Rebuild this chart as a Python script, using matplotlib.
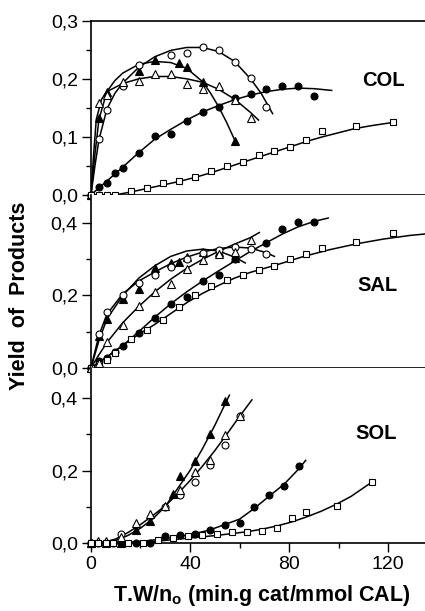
import numpy as np
import matplotlib
matplotlib.use("Agg")
import matplotlib.pyplot as plt
from matplotlib.ticker import MultipleLocator, FuncFormatter

plt.rcParams['font.family'] = ['Liberation Sans', 'DejaVu Sans']
plt.rcParams['mathtext.fontset'] = 'custom'
plt.rcParams['mathtext.bf'] = 'Liberation Sans:bold'

# ---------------- COL (top panel) ----------------
col_sq_x = [0, 3, 6, 9, 15, 21, 27, 33, 39, 45, 51, 57, 63, 69, 75, 81, 87, 99.5, 113.7]
col_sq_y = [0, 0, 0, 0, 0.007, 0.012, 0.02, 0.024, 0.031, 0.041, 0.05, 0.056, 0.068, 0.075, 0.082, 0.095, 0.11, 0.118, 0.125]
col_sq_fx = [0, 9, 15, 21, 27, 33, 39, 45, 51, 57, 63, 69, 75, 81, 87, 93, 99, 105, 113.7]
col_sq_fy = [0, 0, 0.005, 0.011, 0.017, 0.023, 0.03, 0.038, 0.047, 0.056, 0.065, 0.074, 0.083, 0.092, 0.1, 0.107, 0.114, 0.119, 0.125]

col_fc_x = [0, 3, 6, 9, 12, 18, 24, 30, 36, 42, 48, 54, 60, 66, 72, 78, 84]
col_fc_y = [0, 0.014, 0.021, 0.037, 0.047, 0.072, 0.102, 0.105, 0.128, 0.143, 0.152, 0.167, 0.174, 0.183, 0.188, 0.188, 0.171]
col_fc_fx = [0, 6, 12, 18, 24, 30, 36, 42, 48, 54, 60, 66, 72, 78, 84, 90.5]
col_fc_fy = [0, 0.024, 0.048, 0.073, 0.096, 0.113, 0.129, 0.143, 0.154, 0.164, 0.172, 0.178, 0.182, 0.184, 0.183, 0.18]

col_oc_x = [0, 3, 6, 12, 18, 30, 36, 42, 48, 54, 60, 66]
col_oc_y = [0, 0.096, 0.147, 0.188, 0.224, 0.241, 0.245, 0.254, 0.25, 0.229, 0.202, 0.151]
col_oc_fx = [0, 1.5, 3, 6, 9, 12, 18, 24, 30, 36, 42, 48, 54, 60, 64, 68.3]
col_oc_fy = [0, 0.05, 0.095, 0.148, 0.175, 0.193, 0.22, 0.238, 0.249, 0.254, 0.254, 0.247, 0.23, 0.2, 0.175, 0.14]

col_ft_x = [0, 3, 6, 18, 24, 33, 36, 42, 54]
col_ft_y = [0, 0.132, 0.178, 0.213, 0.232, 0.228, 0.22, 0.195, 0.093]
col_ft_fx = [0, 1.5, 3, 6, 9, 12, 18, 24, 30, 36, 42, 45, 48, 51, 54.3]
col_ft_fy = [0, 0.07, 0.13, 0.178, 0.197, 0.21, 0.225, 0.23, 0.228, 0.218, 0.195, 0.175, 0.152, 0.125, 0.092]

col_ot_x = [0, 3, 6, 12, 18, 24, 30, 36, 42, 48, 54, 60]
col_ot_y = [0, 0.159, 0.172, 0.194, 0.197, 0.209, 0.209, 0.191, 0.183, 0.187, 0.163, 0.133]
col_ot_fx = [0, 1, 2, 4, 6, 12, 18, 24, 30, 36, 42, 48, 54, 60, 63]
col_ot_fy = [0, 0.07, 0.13, 0.165, 0.178, 0.192, 0.2, 0.204, 0.204, 0.2, 0.194, 0.182, 0.165, 0.142, 0.129]

# ---------------- SAL (middle panel) ----------------
sal_sq_x = [0, 3, 6, 9, 15, 21, 27, 33, 39, 45, 51, 57, 63, 69, 75, 81, 87, 99.5, 113.7]
sal_sq_y = [0, 0.011, 0.021, 0.04, 0.079, 0.104, 0.131, 0.169, 0.2, 0.225, 0.242, 0.256, 0.271, 0.282, 0.3, 0.316, 0.331, 0.349, 0.374]
sal_sq_fx = [0, 6, 12, 18, 24, 30, 36, 42, 48, 54, 60, 70, 80, 90, 100, 110, 120, 125.6]
sal_sq_fy = [0, 0.03, 0.062, 0.093, 0.12, 0.15, 0.18, 0.206, 0.228, 0.248, 0.264, 0.285, 0.308, 0.327, 0.343, 0.356, 0.366, 0.37]

sal_fc_x = [0, 3, 6, 9, 12, 18, 24, 30, 36, 42, 48, 54, 66, 72, 78, 84]
sal_fc_y = [0, 0.02, 0.028, 0.045, 0.06, 0.095, 0.139, 0.177, 0.197, 0.241, 0.257, 0.3, 0.346, 0.383, 0.404, 0.404]
sal_fc_fx = [0, 6, 12, 18, 24, 30, 36, 42, 48, 54, 60, 66, 72, 78, 84, 89.2]
sal_fc_fy = [0, 0.03, 0.062, 0.1, 0.14, 0.177, 0.21, 0.24, 0.268, 0.295, 0.322, 0.346, 0.37, 0.39, 0.405, 0.414]

sal_oc_x = [0, 3, 6, 12, 18, 24, 30, 36, 42, 48, 54, 60, 66]
sal_oc_y = [0, 0.093, 0.155, 0.202, 0.235, 0.257, 0.279, 0.3, 0.318, 0.325, 0.333, 0.328, 0.314]
sal_oc_fx = [0, 3, 6, 12, 18, 24, 30, 36, 42, 48, 54, 60, 66, 69]
sal_oc_fy = [0, 0.09, 0.148, 0.205, 0.24, 0.265, 0.288, 0.306, 0.32, 0.33, 0.334, 0.331, 0.318, 0.308]

sal_ft_x = [0, 3, 6, 12, 18, 24, 30, 33, 36, 42, 48, 54]
sal_ft_y = [0, 0.088, 0.136, 0.191, 0.217, 0.276, 0.289, 0.293, 0.305, 0.319, 0.32, 0.303]
sal_ft_fx = [0, 3, 6, 12, 18, 24, 30, 36, 42, 48, 54, 58]
sal_ft_fy = [0, 0.075, 0.135, 0.2, 0.248, 0.282, 0.308, 0.323, 0.328, 0.323, 0.306, 0.29]

sal_ot_x = [0, 3, 6, 12, 18, 24, 30, 36, 42, 48, 54, 60]
sal_ot_y = [0, 0.013, 0.072, 0.118, 0.17, 0.209, 0.232, 0.273, 0.298, 0.314, 0.32, 0.352]
sal_ot_fx = [0, 3, 6, 12, 18, 24, 30, 36, 42, 48, 54, 60, 63.3]
sal_ot_fy = [0, 0.036, 0.07, 0.125, 0.17, 0.21, 0.245, 0.275, 0.3, 0.322, 0.342, 0.36, 0.374]

# ---------------- SOL (bottom panel) ----------------
sol_sq_x = [0, 3, 6, 9, 15, 21, 27, 33, 39, 45, 51, 57, 63, 69, 75, 81, 87, 99.5, 113.5]
sol_sq_y = [0, 0, 0, 0, 0, 0, 0.006, 0.013, 0.018, 0.02, 0.023, 0.028, 0.03, 0.031, 0.04, 0.068, 0.085, 0.102, 0.168]
sol_sq_fx = [0, 21, 27, 33, 39, 45, 51, 57, 63, 69, 75, 81, 87, 93, 99, 105, 113.5]
sol_sq_fy = [0, 0, 0.004, 0.008, 0.012, 0.016, 0.02, 0.025, 0.03, 0.037, 0.046, 0.057, 0.071, 0.087, 0.106, 0.128, 0.168]

sol_fc_x = [0, 3, 6, 9, 12, 18, 24, 30, 36, 42, 48, 54, 60, 66, 72, 78, 84]
sol_fc_y = [0, 0, 0, 0, 0, 0, 0, 0.017, 0.021, 0.025, 0.035, 0.049, 0.055, 0.1, 0.133, 0.156, 0.212]
sol_fc_fx = [0, 15, 24, 30, 36, 42, 48, 54, 60, 66, 72, 78, 84, 86.7]
sol_fc_fy = [0, 0, 0.006, 0.011, 0.017, 0.025, 0.035, 0.05, 0.065, 0.095, 0.129, 0.162, 0.205, 0.228]

sol_oc_x = [0, 12, 30, 36, 42, 48, 54, 60]
sol_oc_y = [0, 0.024, 0.099, 0.132, 0.168, 0.215, 0.272, 0.35]

sol_ft_x = [0, 6, 12, 18, 24, 33, 36, 42, 48, 54]
sol_ft_y = [0, 0, 0, 0.035, 0.06, 0.135, 0.184, 0.226, 0.302, 0.392]
sol_ft_fx = [0, 6, 10, 15, 20, 25, 30, 35, 40, 45, 50, 55.9]
sol_ft_fy = [0, 0, 0.006, 0.02, 0.04, 0.066, 0.1, 0.15, 0.2, 0.26, 0.325, 0.409]

sol_ot_x = [0, 3, 6, 12, 18, 24, 30, 36, 42, 48, 54, 60]
sol_ot_y = [0, 0.003, 0.003, 0.016, 0.054, 0.079, 0.102, 0.146, 0.197, 0.229, 0.299, 0.35]
sol_ot_fx = [0, 6, 10, 15, 20, 25, 30, 35, 40, 45, 50, 55, 60, 65]
sol_ot_fy = [0, 0.002, 0.01, 0.028, 0.05, 0.075, 0.102, 0.135, 0.172, 0.212, 0.255, 0.302, 0.35, 0.396]

x_ticks = [0, 40, 80, 120]

fig = plt.figure(figsize=(4.25, 6.11), dpi=100)
left = 0.214
ax1 = fig.add_axes([left, 0.681, 1 - left, 0.285])
ax2 = fig.add_axes([left, 0.398, 1 - left, 0.283])
ax3 = fig.add_axes([left, 0.112, 1 - left, 0.286])

comma = FuncFormatter(lambda v, p: ("%.1f" % v).replace(".", ","))


def curve(ax, x, y):
    ax.plot(x, y, color="black", lw=1.1, zorder=2)


def pts(ax, x, y, m, filled):
    fc = "black" if filled else "white"
    ms = 5.8 if m == "^" else 5.0
    ax.plot(x, y, ls="none", marker=m, ms=ms, mfc=fc, mec="black", mew=0.8,
            zorder=3, clip_on=False)


def style(ax, xmax, ymax, ymajor, labels):
    ax.set_xlim(0, xmax)
    ax.set_ylim(0, ymax)
    ax.spines["right"].set_visible(False)
    for s in ax.spines.values():
        s.set_linewidth(1.2)
    ax.xaxis.set_major_locator(MultipleLocator(40))
    ax.xaxis.set_minor_locator(MultipleLocator(20))
    ax.yaxis.set_major_locator(MultipleLocator(ymajor))
    ax.yaxis.set_minor_locator(MultipleLocator(ymajor / 2))
    ax.yaxis.set_major_formatter(comma)
    ax.tick_params(which="both", direction="out", width=1.0, labelsize=14)
    ax.tick_params(which="major", length=6.5, pad=3)
    ax.tick_params(which="minor", length=3.5)
    ax.tick_params(axis="x", labelbottom=labels)


# top
curve(ax1, col_sq_fx, col_sq_fy)
curve(ax1, col_fc_fx, col_fc_fy)
curve(ax1, col_oc_fx, col_oc_fy)
curve(ax1, col_ft_fx, col_ft_fy)
curve(ax1, col_ot_fx, col_ot_fy)
pts(ax1, col_fc_x, col_fc_y, "o", True)
pts(ax1, col_ft_x, col_ft_y, "^", True)
pts(ax1, col_oc_x, col_oc_y, "o", False)
pts(ax1, col_ot_x, col_ot_y, "^", False)
pts(ax1, col_sq_x, col_sq_y, "s", False)
style(ax1, 125.6, 0.3, 0.1, False)
ax1.spines["top"].set_visible(True)

# middle
curve(ax2, sal_sq_fx, sal_sq_fy)
curve(ax2, sal_fc_fx, sal_fc_fy)
curve(ax2, sal_oc_fx, sal_oc_fy)
curve(ax2, sal_ft_fx, sal_ft_fy)
curve(ax2, sal_ot_fx, sal_ot_fy)
pts(ax2, sal_fc_x, sal_fc_y, "o", True)
pts(ax2, sal_ft_x, sal_ft_y, "^", True)
pts(ax2, sal_oc_x, sal_oc_y, "o", False)
pts(ax2, sal_sq_x, sal_sq_y, "s", False)
pts(ax2, sal_ot_x, sal_ot_y, "^", False)
style(ax2, 125.6, 0.478, 0.2, False)
ax2.spines["top"].set_visible(False)

# bottom
curve(ax3, sol_sq_fx, sol_sq_fy)
curve(ax3, sol_fc_fx, sol_fc_fy)
curve(ax3, sol_ft_fx, sol_ft_fy)
curve(ax3, sol_ot_fx, sol_ot_fy)
pts(ax3, sol_fc_x, sol_fc_y, "o", True)
pts(ax3, sol_ft_x, sol_ft_y, "^", True)
pts(ax3, sol_oc_x, sol_oc_y, "o", False)
pts(ax3, sol_ot_x, sol_ot_y, "^", False)
pts(ax3, sol_sq_x, sol_sq_y, "s", False)
style(ax3, 134.9, 0.485, 0.2, True)
ax3.spines["top"].set_visible(False)
ax3.set_xticks(x_ticks)

fig.text(0.901, 0.869, "COL", fontsize=14.5, fontweight="bold", ha="center", va="center")
fig.text(0.887, 0.532, "SAL", fontsize=14.5, fontweight="bold", ha="center", va="center")
fig.text(0.885, 0.291, "SOL", fontsize=14.5, fontweight="bold", ha="center", va="center")

fig.text(0.047, 0.516, "Yield  of  Products", rotation=90, fontsize=15.5,
         fontweight="bold", ha="center", va="center")
fig.text(0.615, 0.016, r"T.W/n$_\mathbf{o}$ (min.g cat/mmol CAL)", fontsize=15.5,
         fontweight="bold", ha="center", va="baseline")

fig.savefig("out.png", dpi=100)
